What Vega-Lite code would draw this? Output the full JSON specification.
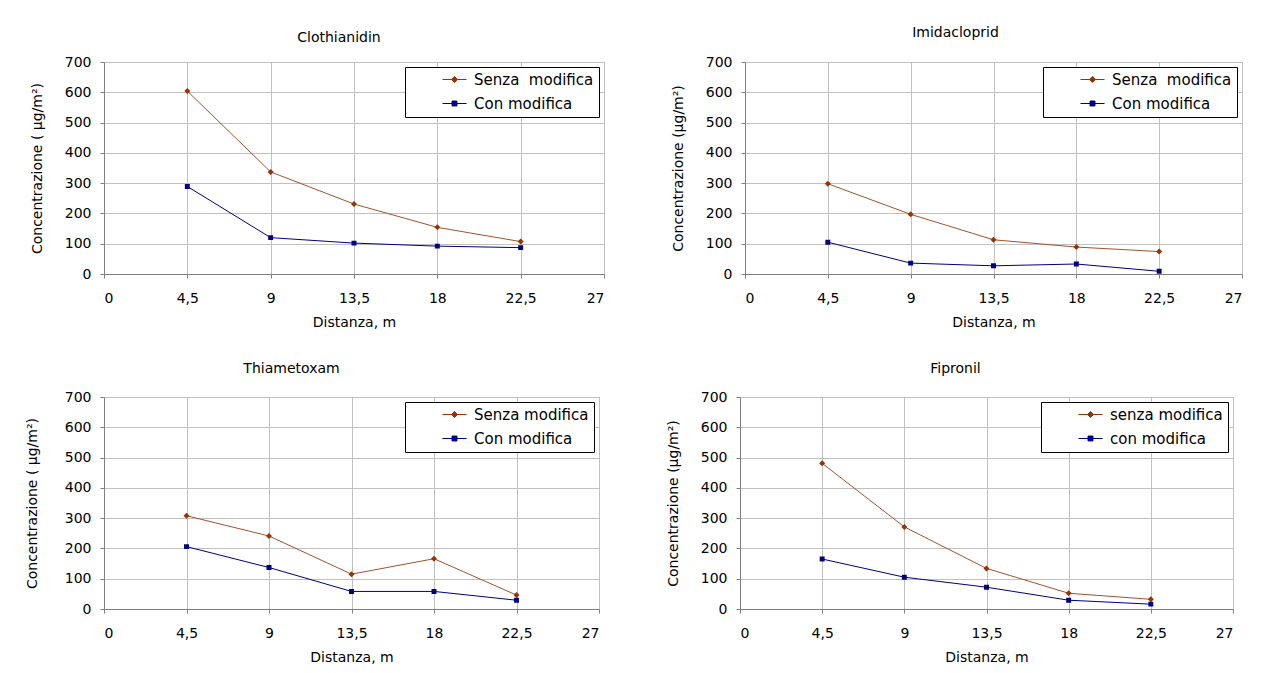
{
  "$schema": "https://vega.github.io/schema/vega-lite/v6.json",
  "background": "white",
  "padding": {"left": 24, "top": 25, "right": 0, "bottom": 0},
  "data": {"values": [
    {"chart": "Clothianidin", "s": "Senza  modifica", "d": 4.5, "c": 604},
    {"chart": "Clothianidin", "s": "Senza  modifica", "d": 9, "c": 337},
    {"chart": "Clothianidin", "s": "Senza  modifica", "d": 13.5, "c": 231},
    {"chart": "Clothianidin", "s": "Senza  modifica", "d": 18, "c": 154},
    {"chart": "Clothianidin", "s": "Senza  modifica", "d": 22.5, "c": 107},
    {"chart": "Clothianidin", "s": "Con modifica", "d": 4.5, "c": 289},
    {"chart": "Clothianidin", "s": "Con modifica", "d": 9, "c": 120},
    {"chart": "Clothianidin", "s": "Con modifica", "d": 13.5, "c": 102},
    {"chart": "Clothianidin", "s": "Con modifica", "d": 18, "c": 92},
    {"chart": "Clothianidin", "s": "Con modifica", "d": 22.5, "c": 87},
    {"chart": "Imidacloprid", "s": "Senza  modifica", "d": 4.5, "c": 298},
    {"chart": "Imidacloprid", "s": "Senza  modifica", "d": 9, "c": 197},
    {"chart": "Imidacloprid", "s": "Senza  modifica", "d": 13.5, "c": 113},
    {"chart": "Imidacloprid", "s": "Senza  modifica", "d": 18, "c": 89},
    {"chart": "Imidacloprid", "s": "Senza  modifica", "d": 22.5, "c": 74},
    {"chart": "Imidacloprid", "s": "Con modifica", "d": 4.5, "c": 105},
    {"chart": "Imidacloprid", "s": "Con modifica", "d": 9, "c": 36},
    {"chart": "Imidacloprid", "s": "Con modifica", "d": 13.5, "c": 27},
    {"chart": "Imidacloprid", "s": "Con modifica", "d": 18, "c": 33},
    {"chart": "Imidacloprid", "s": "Con modifica", "d": 22.5, "c": 9},
    {"chart": "Thiametoxam", "s": "Senza modifica", "d": 4.5, "c": 308},
    {"chart": "Thiametoxam", "s": "Senza modifica", "d": 9, "c": 241},
    {"chart": "Thiametoxam", "s": "Senza modifica", "d": 13.5, "c": 115},
    {"chart": "Thiametoxam", "s": "Senza modifica", "d": 18, "c": 166},
    {"chart": "Thiametoxam", "s": "Senza modifica", "d": 22.5, "c": 46},
    {"chart": "Thiametoxam", "s": "Con modifica", "d": 4.5, "c": 206},
    {"chart": "Thiametoxam", "s": "Con modifica", "d": 9, "c": 137},
    {"chart": "Thiametoxam", "s": "Con modifica", "d": 13.5, "c": 58},
    {"chart": "Thiametoxam", "s": "Con modifica", "d": 18, "c": 58},
    {"chart": "Thiametoxam", "s": "Con modifica", "d": 22.5, "c": 29},
    {"chart": "Fipronil", "s": "senza modifica", "d": 4.5, "c": 481},
    {"chart": "Fipronil", "s": "senza modifica", "d": 9, "c": 271},
    {"chart": "Fipronil", "s": "senza modifica", "d": 13.5, "c": 134},
    {"chart": "Fipronil", "s": "senza modifica", "d": 18, "c": 52},
    {"chart": "Fipronil", "s": "senza modifica", "d": 22.5, "c": 32},
    {"chart": "Fipronil", "s": "con modifica", "d": 4.5, "c": 165},
    {"chart": "Fipronil", "s": "con modifica", "d": 9, "c": 105},
    {"chart": "Fipronil", "s": "con modifica", "d": 13.5, "c": 72},
    {"chart": "Fipronil", "s": "con modifica", "d": 18, "c": 29},
    {"chart": "Fipronil", "s": "con modifica", "d": 22.5, "c": 16}
  ]},
  "config": {
    "font": "DejaVu Sans",
    "view": {"stroke": "#c0c0c0"},
    "axis": {"labelFont": "DejaVu Sans", "labelFontSize": 14, "labelColor": "#000", "titleFont": "DejaVu Sans", "titleFontSize": 14, "titleFontWeight": "normal", "titleColor": "#000", "gridColor": "#c0c0c0", "gridOpacity": 1, "domainColor": "#808080", "tickColor": "#808080", "tickSize": 4},
    "axisX": {"labelPadding": 13, "titlePadding": 10},
    "axisY": {"labelPadding": 9, "titlePadding": 20},
    "title": {"fontSize": 14, "fontWeight": "normal", "font": "DejaVu Sans", "color": "#000"},
    "legend": {"orient": "top-right", "offset": 5, "padding": 5, "strokeColor": "#000", "fillColor": "#fff", "labelFont": "DejaVu Sans", "labelFontSize": 15, "labelColor": "#000", "symbolOffset": 37, "labelOffset": 12, "rowPadding": 8, "symbolSize": 120, "symbolStrokeWidth": 1}
  },
  "resolve": {"scale": {"color": "independent", "fill": "independent", "stroke": "independent", "shape": "independent"}, "legend": {"color": "independent", "fill": "independent", "stroke": "independent", "shape": "independent"}},
  "spacing": 31,
  "vconcat": [
    {
      "spacing": 65,
      "resolve": {"scale": {"color": "independent", "fill": "independent", "stroke": "independent", "shape": "independent"}, "legend": {"color": "independent", "fill": "independent", "stroke": "independent", "shape": "independent"}},
      "hconcat": [
        {
          "width": 500, "height": 212,
          "title": {"text": "Clothianidin", "dx": -15, "offset": 10},
          "transform": [{"filter": "datum.chart === 'Clothianidin'"}],
          "encoding": {
            "x": {"field": "d", "type": "quantitative", "scale": {"domain": [0, 27], "nice": false}, "axis": {"values": [0, 4.5, 9, 13.5, 18, 22.5, 27], "title": "Distanza, m", "labelExpr": "replace(format(datum.value, '~g'), '.', ',')"}},
            "y": {"field": "c", "type": "quantitative", "scale": {"domain": [0, 700], "nice": false}, "axis": {"values": [0, 100, 200, 300, 400, 500, 600, 700], "title": "Concentrazione ( μg/m²)"}}
          },
          "layer": [
            {"mark": {"type": "line", "strokeWidth": 1}, "encoding": {"color": {"field": "s", "type": "nominal", "sort": "descending", "scale": {"range": ["#a0522d", "#000080"]}, "legend": null}}},
            {"mark": {"type": "point", "filled": true, "size": 120, "strokeWidth": 0, "opacity": 1},
             "encoding": {
               "fill": {"field": "s", "type": "nominal", "sort": "descending", "scale": {"range": ["#993300", "#000080"]}, "legend": {"title": null, "labelExpr": "replace(datum.label, '  ', '\u00a0 ')", "encode": {"symbols": {"update": {"strokeWidth": {"value": 1}, "strokeOpacity": {"value": 1}, "stroke": {"signal": "lower(slice(datum.value, 0, 1)) === 's' ? '#993300' : '#000080'"}}}}}},
               "stroke": {"field": "s", "type": "nominal", "sort": "descending", "scale": {"range": ["#993300", "#000080"]}, "legend": {"title": null, "labelExpr": "replace(datum.label, '  ', '\u00a0 ')", "encode": {"symbols": {"update": {"strokeWidth": {"value": 1}, "strokeOpacity": {"value": 1}, "stroke": {"signal": "lower(slice(datum.value, 0, 1)) === 's' ? '#993300' : '#000080'"}}}}}},
               "shape": {"field": "s", "type": "nominal", "sort": "descending", "scale": {"range": ["M-2.2,0H2.2M0,-0.55L0.55,0L0,0.55L-0.55,0Z", "M-2.2,0H2.2M-0.45,-0.45H0.45V0.45H-0.45Z"]}, "legend": {"title": null, "labelExpr": "replace(datum.label, '  ', '\u00a0 ')", "encode": {"symbols": {"update": {"strokeWidth": {"value": 1}, "strokeOpacity": {"value": 1}, "stroke": {"signal": "lower(slice(datum.value, 0, 1)) === 's' ? '#993300' : '#000080'"}}}}}}
             }}
          ]
        },
        {
          "width": 497, "height": 212,
          "title": {"text": "Imidacloprid", "dx": -38, "offset": 15},
          "transform": [{"filter": "datum.chart === 'Imidacloprid'"}],
          "encoding": {
            "x": {"field": "d", "type": "quantitative", "scale": {"domain": [0, 27], "nice": false}, "axis": {"values": [0, 4.5, 9, 13.5, 18, 22.5, 27], "title": "Distanza, m", "labelExpr": "replace(format(datum.value, '~g'), '.', ',')"}},
            "y": {"field": "c", "type": "quantitative", "scale": {"domain": [0, 700], "nice": false}, "axis": {"values": [0, 100, 200, 300, 400, 500, 600, 700], "title": "Concentrazione (μg/m²)"}}
          },
          "layer": [
            {"mark": {"type": "line", "strokeWidth": 1}, "encoding": {"color": {"field": "s", "type": "nominal", "sort": "descending", "scale": {"range": ["#a0522d", "#000080"]}, "legend": null}}},
            {"mark": {"type": "point", "filled": true, "size": 120, "strokeWidth": 0, "opacity": 1},
             "encoding": {
               "fill": {"field": "s", "type": "nominal", "sort": "descending", "scale": {"range": ["#993300", "#000080"]}, "legend": {"title": null, "labelExpr": "replace(datum.label, '  ', '\u00a0 ')", "encode": {"symbols": {"update": {"strokeWidth": {"value": 1}, "strokeOpacity": {"value": 1}, "stroke": {"signal": "lower(slice(datum.value, 0, 1)) === 's' ? '#993300' : '#000080'"}}}}}},
               "stroke": {"field": "s", "type": "nominal", "sort": "descending", "scale": {"range": ["#993300", "#000080"]}, "legend": {"title": null, "labelExpr": "replace(datum.label, '  ', '\u00a0 ')", "encode": {"symbols": {"update": {"strokeWidth": {"value": 1}, "strokeOpacity": {"value": 1}, "stroke": {"signal": "lower(slice(datum.value, 0, 1)) === 's' ? '#993300' : '#000080'"}}}}}},
               "shape": {"field": "s", "type": "nominal", "sort": "descending", "scale": {"range": ["M-2.2,0H2.2M0,-0.55L0.55,0L0,0.55L-0.55,0Z", "M-2.2,0H2.2M-0.45,-0.45H0.45V0.45H-0.45Z"]}, "legend": {"title": null, "labelExpr": "replace(datum.label, '  ', '\u00a0 ')", "encode": {"symbols": {"update": {"strokeWidth": {"value": 1}, "strokeOpacity": {"value": 1}, "stroke": {"signal": "lower(slice(datum.value, 0, 1)) === 's' ? '#993300' : '#000080'"}}}}}}
             }}
          ]
        }
      ]
    },
    {
      "spacing": 65,
      "resolve": {"scale": {"color": "independent", "fill": "independent", "stroke": "independent", "shape": "independent"}, "legend": {"color": "independent", "fill": "independent", "stroke": "independent", "shape": "independent"}},
      "hconcat": [
        {
          "width": 495, "height": 212,
          "title": {"text": "Thiametoxam", "dx": -60, "offset": 14},
          "transform": [{"filter": "datum.chart === 'Thiametoxam'"}],
          "encoding": {
            "x": {"field": "d", "type": "quantitative", "scale": {"domain": [0, 27], "nice": false}, "axis": {"values": [0, 4.5, 9, 13.5, 18, 22.5, 27], "title": "Distanza, m", "labelExpr": "replace(format(datum.value, '~g'), '.', ',')"}},
            "y": {"field": "c", "type": "quantitative", "scale": {"domain": [0, 700], "nice": false}, "axis": {"values": [0, 100, 200, 300, 400, 500, 600, 700], "title": "Concentrazione ( μg/m²)", "titlePadding": 25}}
          },
          "layer": [
            {"mark": {"type": "line", "strokeWidth": 1}, "encoding": {"color": {"field": "s", "type": "nominal", "sort": "descending", "scale": {"range": ["#a0522d", "#000080"]}, "legend": null}}},
            {"mark": {"type": "point", "filled": true, "size": 120, "strokeWidth": 0, "opacity": 1},
             "encoding": {
               "fill": {"field": "s", "type": "nominal", "sort": "descending", "scale": {"range": ["#993300", "#000080"]}, "legend": {"title": null, "encode": {"symbols": {"update": {"strokeWidth": {"value": 1}, "strokeOpacity": {"value": 1}, "stroke": {"signal": "lower(slice(datum.value, 0, 1)) === 's' ? '#993300' : '#000080'"}}}}}},
               "stroke": {"field": "s", "type": "nominal", "sort": "descending", "scale": {"range": ["#993300", "#000080"]}, "legend": {"title": null, "encode": {"symbols": {"update": {"strokeWidth": {"value": 1}, "strokeOpacity": {"value": 1}, "stroke": {"signal": "lower(slice(datum.value, 0, 1)) === 's' ? '#993300' : '#000080'"}}}}}},
               "shape": {"field": "s", "type": "nominal", "sort": "descending", "scale": {"range": ["M-2.2,0H2.2M0,-0.55L0.55,0L0,0.55L-0.55,0Z", "M-2.2,0H2.2M-0.45,-0.45H0.45V0.45H-0.45Z"]}, "legend": {"title": null, "encode": {"symbols": {"update": {"strokeWidth": {"value": 1}, "strokeOpacity": {"value": 1}, "stroke": {"signal": "lower(slice(datum.value, 0, 1)) === 's' ? '#993300' : '#000080'"}}}}}}
             }}
          ]
        },
        {
          "width": 493, "height": 212,
          "title": {"text": "Fipronil", "dx": -31, "offset": 14},
          "transform": [{"filter": "datum.chart === 'Fipronil'"}],
          "encoding": {
            "x": {"field": "d", "type": "quantitative", "scale": {"domain": [0, 27], "nice": false}, "axis": {"values": [0, 4.5, 9, 13.5, 18, 22.5, 27], "title": "Distanza, m", "labelExpr": "replace(format(datum.value, '~g'), '.', ',')"}},
            "y": {"field": "c", "type": "quantitative", "scale": {"domain": [0, 700], "nice": false}, "axis": {"values": [0, 100, 200, 300, 400, 500, 600, 700], "title": "Concentrazione (μg/m²)"}}
          },
          "layer": [
            {"mark": {"type": "line", "strokeWidth": 1}, "encoding": {"color": {"field": "s", "type": "nominal", "sort": "descending", "scale": {"range": ["#a0522d", "#000080"]}, "legend": null}}},
            {"mark": {"type": "point", "filled": true, "size": 120, "strokeWidth": 0, "opacity": 1},
             "encoding": {
               "fill": {"field": "s", "type": "nominal", "sort": "descending", "scale": {"range": ["#993300", "#000080"]}, "legend": {"title": null, "encode": {"symbols": {"update": {"strokeWidth": {"value": 1}, "strokeOpacity": {"value": 1}, "stroke": {"signal": "lower(slice(datum.value, 0, 1)) === 's' ? '#993300' : '#000080'"}}}}}},
               "stroke": {"field": "s", "type": "nominal", "sort": "descending", "scale": {"range": ["#993300", "#000080"]}, "legend": {"title": null, "encode": {"symbols": {"update": {"strokeWidth": {"value": 1}, "strokeOpacity": {"value": 1}, "stroke": {"signal": "lower(slice(datum.value, 0, 1)) === 's' ? '#993300' : '#000080'"}}}}}},
               "shape": {"field": "s", "type": "nominal", "sort": "descending", "scale": {"range": ["M-2.2,0H2.2M0,-0.55L0.55,0L0,0.55L-0.55,0Z", "M-2.2,0H2.2M-0.45,-0.45H0.45V0.45H-0.45Z"]}, "legend": {"title": null, "encode": {"symbols": {"update": {"strokeWidth": {"value": 1}, "strokeOpacity": {"value": 1}, "stroke": {"signal": "lower(slice(datum.value, 0, 1)) === 's' ? '#993300' : '#000080'"}}}}}}
             }}
          ]
        }
      ]
    }
  ]
}
